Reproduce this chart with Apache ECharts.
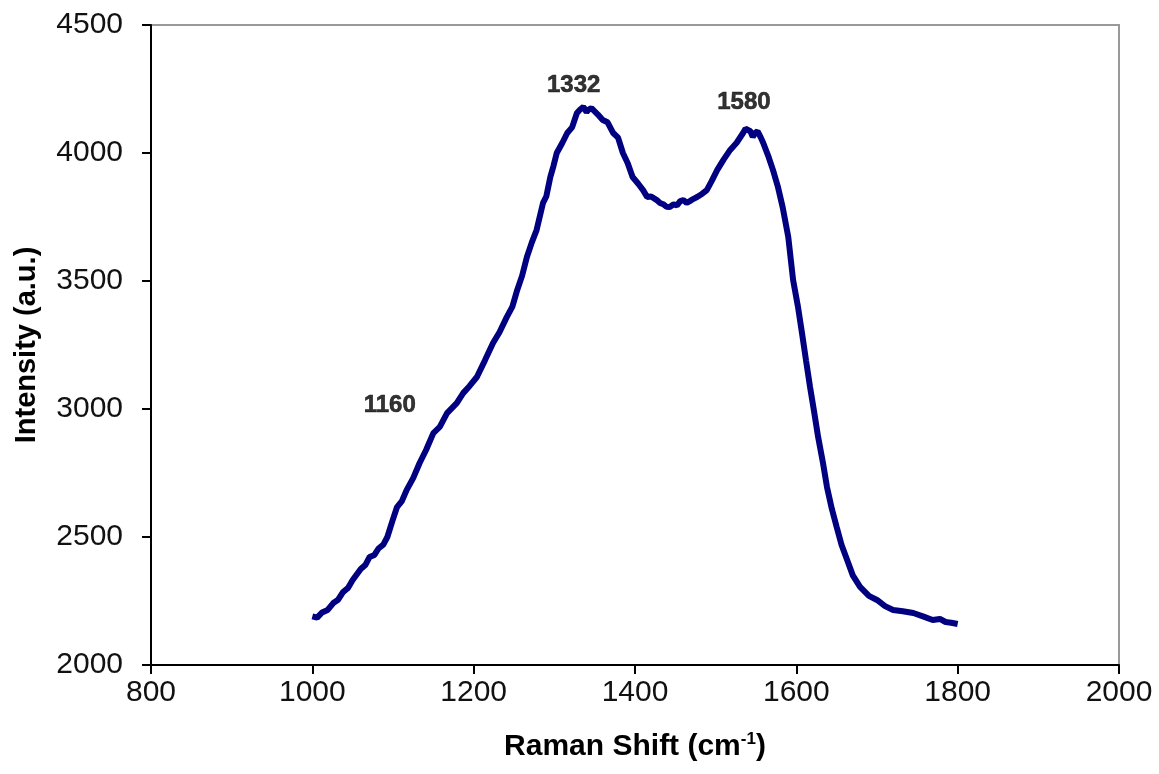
<!DOCTYPE html>
<html>
<head>
<meta charset="utf-8">
<script src="https://cdn.jsdelivr.net/npm/echarts@6/dist/echarts.min.js"></script>
<style>
  html, body { margin: 0; padding: 0; background: #fff; }
  #chart { width: 1159px; height: 774px; }
</style>
</head>
<body>
<div id="chart"></div>
<script>
// Raman spectrum
var ramanShift = [1000, 1006, 1012, 1019, 1026, 1032, 1038, 1044, 1050, 1060, 1066, 1071, 1077, 1082, 1088, 1093,
    1099, 1105, 1111, 1117, 1125, 1133, 1141, 1150, 1158, 1167, 1179, 1187, 1195, 1204, 1214, 1224, 1232,
    1241, 1248, 1254, 1260, 1266, 1272, 1278, 1286, 1290, 1295, 1299, 1303, 1310, 1316, 1322, 1328, 1332,
    1336, 1340, 1342, 1346, 1348, 1354, 1360, 1366, 1373, 1379, 1385, 1391, 1397, 1404, 1410, 1415, 1420,
    1427, 1431, 1435, 1439, 1443, 1448, 1452, 1456, 1460, 1464, 1468, 1472, 1477, 1483, 1489, 1495, 1502,
    1510, 1518, 1526, 1534, 1537, 1539, 1543, 1546, 1549, 1552, 1556, 1559, 1565, 1571, 1577, 1583, 1590,
    1596, 1602, 1607, 1612, 1617, 1622, 1627, 1633, 1638, 1644, 1650, 1656, 1663, 1670, 1679, 1690, 1700,
    1710, 1720, 1732, 1745, 1757, 1769, 1778, 1785, 1792, 1800];
var intensity = [2190, 2185, 2205, 2215, 2242, 2255, 2285, 2300, 2332, 2375, 2392, 2422, 2430, 2455, 2470, 2500,
    2560, 2617, 2640, 2684, 2730, 2789, 2840, 2906, 2930, 2984, 3023, 3062, 3090, 3125, 3190, 3258, 3300,
    3359, 3400, 3465, 3520, 3594, 3650, 3699, 3805, 3830, 3906, 3950, 4000, 4040, 4078, 4100, 4156, 4170,
    4180, 4160, 4168, 4175, 4180, 4150, 4129, 4120, 4078, 4060, 4000, 3960, 3906, 3880, 3855, 3828, 3830,
    3816, 3805, 3800, 3790, 3789, 3800, 3795, 3812, 3816, 3805, 3812, 3820, 3828, 3840, 3855, 3890, 3934,
    3975, 4012, 4040, 4078, 4095, 4102, 4085, 4063, 4078, 4085, 4060, 4039, 3990, 3934, 3870, 3789, 3672,
    3504, 3400, 3297, 3190, 3086, 2990, 2891, 2790, 2695, 2610, 2539, 2470, 2410, 2350, 2305, 2270, 2254,
    2230, 2215, 2210, 2203, 2190, 2176, 2180, 2168, 2165, 2160];

var xTicks = { min: 800, max: 2000, interval: 200 };
var yTicks = { min: 2000, max: 4500, interval: 500 };

// peak annotations
var peakLabels = ['1160', '1332', '1580'];
var peakX = [1096, 1324, 1535];
var peakY = [3016, 4266, 4199];

var points = ramanShift.map(function (x, i) { return [x, intensity[i]]; });
var peaks = peakLabels.map(function (t, i) { return { name: t, value: [peakX[i], peakY[i]] }; });

function plain(v) { return String(v); }

var myChart = echarts.init(document.getElementById('chart'));
var option = {
    backgroundColor: '#ffffff',
    animation: false,
    textStyle: { fontFamily: 'Liberation Sans, Arial, sans-serif' },
    grid: {
        left: 151, right: 40, top: 25, bottom: 109,
        outerBoundsMode: 'none',
        containLabel: false,
        show: true,
        borderColor: '#999999',
        borderWidth: 2,
        backgroundColor: '#ffffff'
    },
    xAxis: {
        type: 'value',
        min: xTicks.min, max: xTicks.max, interval: xTicks.interval,
        name: '{t|Raman Shift (cm}{s|-1}{t|)}',
        nameLocation: 'middle',
        nameGap: 66,
        nameTextStyle: {
            rich: {
                t: { fontSize: 30, fontWeight: 'bold', color: '#000', fontFamily: 'Liberation Sans' },
                s: { fontSize: 17, fontWeight: 'bold', color: '#000', fontFamily: 'Liberation Sans', verticalAlign: 'top', padding: [0, 0, 15, 0] }
            }
        },
        axisLine: { show: true, onZero: false, lineStyle: { color: '#000', width: 2 } },
        axisTick: { show: true, inside: false, length: 9, lineStyle: { color: '#000', width: 2 } },
        axisLabel: { fontSize: 30, color: '#111', margin: 13, fontFamily: 'Liberation Sans', formatter: plain },
        splitLine: { show: false }
    },
    yAxis: {
        type: 'value',
        min: yTicks.min, max: yTicks.max, interval: yTicks.interval,
        name: 'Intensity (a.u.)',
        nameLocation: 'middle',
        nameGap: 110,
        nameTextStyle: { fontSize: 29, fontWeight: 'bold', color: '#000', fontFamily: 'Liberation Sans' },
        axisLine: { show: true, onZero: false, lineStyle: { color: '#000', width: 2 } },
        axisTick: { show: true, inside: false, length: 9, lineStyle: { color: '#000', width: 2 } },
        axisLabel: { fontSize: 30, color: '#111', margin: 28, fontFamily: 'Liberation Sans', formatter: plain },
        splitLine: { show: false }
    },
    series: [
        {
            name: 'Raman',
            type: 'line',
            data: points,
            showSymbol: false,
            smooth: false,
            lineStyle: { color: '#000080', width: 6 },
            z: 3
        },
        {
            name: 'Peaks',
            type: 'scatter',
            data: peaks,
            symbolSize: 0,
            silent: true,
            label: {
                show: true,
                position: 'inside',
                formatter: '{b}',
                fontSize: 24,
                fontWeight: 'bold',
                color: '#000000',
                textBorderColor: '#000000',
                textBorderWidth: 0.6,
                fontFamily: 'Liberation Sans'
            },
            z: 4
        }
    ]
};

myChart.setOption(option);
window.onresize = myChart.resize;
</script>
</body>
</html>
